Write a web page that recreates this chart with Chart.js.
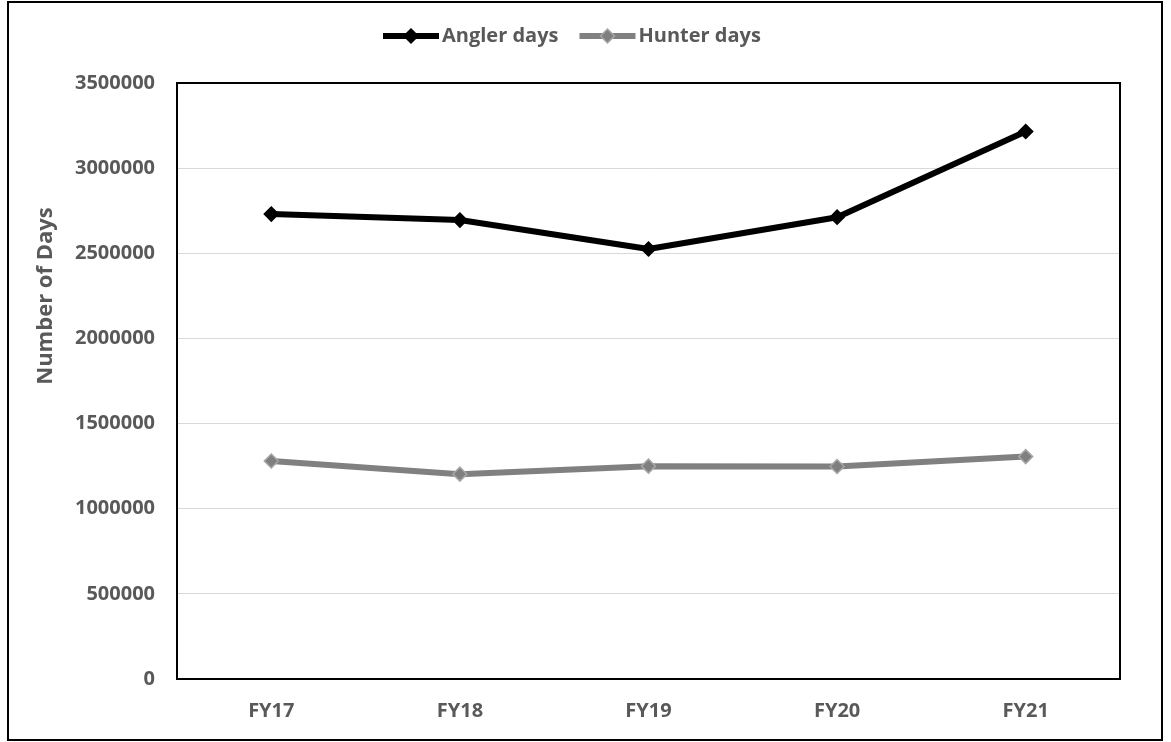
<!DOCTYPE html>
<html>
<head>
<meta charset="utf-8">
<script src="https://cdn.jsdelivr.net/npm/chart.js@4.4.0/dist/chart.umd.min.js"></script>
<style>
  html, body { margin: 0; padding: 0; background: #fff; }
  #wrap { position: absolute; left: 0; top: 0; width: 1171px; height: 742px; }
</style>
</head>
<body>
<div id="wrap"><canvas id="c" width="1171" height="742"></canvas></div>
<script>
// ---- data ----
const categories = ['FY17', 'FY18', 'FY19', 'FY20', 'FY21'];
const anglerDays = [2730000, 2695000, 2525000, 2712000, 3215000];
const hunterDays = [1280000, 1203000, 1250000, 1248000, 1306000];
const seriesNames = ['Angler days', 'Hunter days'];
const yMin = 0;
const yMax = 3500000;
const yStep = 500000;
const yTitle = 'Number of Days';

// ---- styles ----
const TEXT = '#595959';
const FONT = '"Open Sans", "Liberation Sans", sans-serif';
const seriesColors = ['#000000', '#808080'];
const pointFill = ['#000000', '#7f7f7f'];
const pointEdge = ['#000000', '#a6a6a6'];

const decor = {
  id: 'decor',
  beforeDraw(chart) {
    const ctx = chart.ctx;
    ctx.save();
    ctx.fillStyle = '#fff';
    ctx.fillRect(0, 0, chart.width, chart.height);
    ctx.strokeStyle = '#000';
    ctx.lineWidth = 2;
    ctx.strokeRect(8, 2, 1154, 738);
    ctx.restore();
  },
  beforeDatasetsDraw(chart) {
    const ctx = chart.ctx, a = chart.chartArea;
    ctx.save();
    ctx.strokeStyle = '#000';
    ctx.lineWidth = 2;
    ctx.strokeRect(a.left, a.top, a.right - a.left, a.bottom - a.top);
    ctx.restore();
  },
  afterDraw(chart) {
    const ctx = chart.ctx;
    ctx.save();
    // y-axis title
    ctx.translate(46, 296);
    ctx.rotate(-Math.PI / 2);
    ctx.font = 'bold 22px ' + FONT;
    ctx.fillStyle = TEXT;
    ctx.textAlign = 'center';
    ctx.textBaseline = 'middle';
    ctx.fillText(yTitle, 0, 0);
    ctx.restore();

    // legend
    ctx.save();
    ctx.font = 'bold 20px ' + FONT;
    ctx.textBaseline = 'middle';
    ctx.textAlign = 'left';
    let x = 383;
    const y = 36;
    seriesNames.forEach((name, i) => {
      ctx.strokeStyle = seriesColors[i];
      ctx.lineWidth = 6;
      ctx.beginPath();
      ctx.moveTo(x, y);
      ctx.lineTo(x + 56, y);
      ctx.stroke();
      const cx = x + 28, r = 7;
      ctx.beginPath();
      ctx.moveTo(cx, y - r);
      ctx.lineTo(cx + r, y);
      ctx.lineTo(cx, y + r);
      ctx.lineTo(cx - r, y);
      ctx.closePath();
      ctx.fillStyle = pointFill[i];
      ctx.fill();
      ctx.lineWidth = 1.5;
      ctx.strokeStyle = pointEdge[i];
      ctx.stroke();
      ctx.fillStyle = TEXT;
      ctx.fillText(name, x + 59, y);
      x = x + 59 + ctx.measureText(name).width + 21;
    });
    ctx.restore();
  }
};

new Chart(document.getElementById('c'), {
  type: 'line',
  data: {
    labels: categories,
    datasets: [anglerDays, hunterDays].map((vals, i) => ({
      label: seriesNames[i],
      data: vals,
      borderColor: seriesColors[i],
      backgroundColor: seriesColors[i],
      borderWidth: 6,
      borderJoinStyle: 'round',
      borderCapStyle: 'round',
      tension: 0,
      fill: false,
      pointStyle: 'rectRot',
      pointRadius: 7,
      pointHoverRadius: 7,
      pointBackgroundColor: pointFill[i],
      pointBorderColor: pointEdge[i],
      pointBorderWidth: 1.5
    }))
  },
  options: {
    responsive: false,
    animation: false,
    devicePixelRatio: 1,
    layout: { padding: { left: 0, right: 51, top: 83, bottom: 0 } },
    plugins: { legend: { display: false }, tooltip: { enabled: false } },
    scales: {
      x: {
        type: 'category',
        offset: true,
        grid: { display: false, drawTicks: false },
        border: { display: false },
        ticks: { color: TEXT, font: { family: FONT, size: 20, weight: 'bold' }, padding: 20 },
        afterFit(s) { s.height = 63; }
      },
      y: {
        min: yMin,
        max: yMax,
        grid: { color: '#d9d9d9', lineWidth: 1, drawTicks: false },
        border: { display: false },
        ticks: {
          stepSize: yStep,
          color: TEXT,
          font: { family: FONT, size: 20, weight: 'bold' },
          padding: 22,
          callback: v => String(v)
        },
        afterFit(s) { s.width = 177; }
      }
    }
  },
  plugins: [decor]
});
</script>
</body>
</html>
